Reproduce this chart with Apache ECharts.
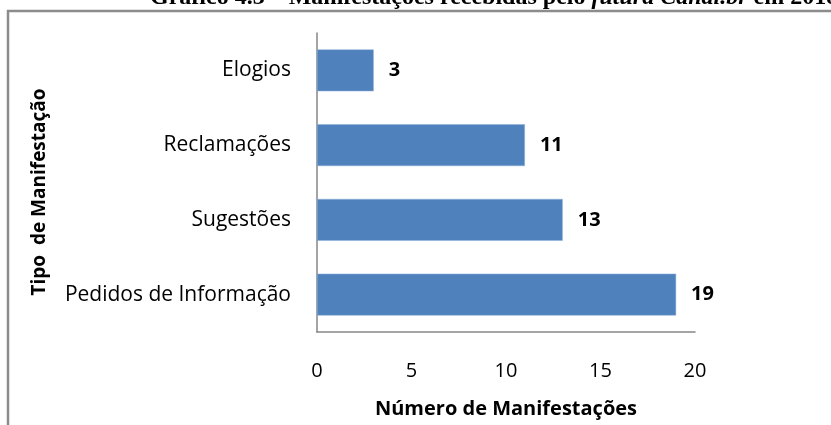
<!DOCTYPE html>
<html>
<head>
<meta charset="utf-8">
<script src="https://cdn.jsdelivr.net/npm/echarts@6/dist/echarts.min.js"></script>
<style>
  html, body { margin: 0; padding: 0; background: #fff; }
  #chart { width: 831px; height: 425px; }
</style>
</head>
<body>
<div id="chart"></div>
<script>
// Manifestation types (bottom to top on the category axis)
const categories = ['Pedidos de Informação', 'Sugestões', 'Reclamações', 'Elogios'];
// Number of manifestations per type
const values = [19, 13, 11, 3];
// Value axis ticks
const xTicks = [0, 5, 10, 15, 20];

const axisGray = '#868686';
const barBlue = '#4F81BD';
const sans = '"Open Sans", "Noto Sans", sans-serif';
const serif = '"Liberation Serif", "DejaVu Serif", serif';

const chart = echarts.init(document.getElementById('chart'));

chart.setOption({
  animation: false,
  backgroundColor: '#fff',
  title: {
    text: '{b|Gráfico 4.3 – Manifestações recebidas pelo }{i|futura Canal.br}{b| em 2018}',
    left: 150,
    top: -14,
    padding: 0,
    textStyle: {
      rich: {
        b: { fontFamily: serif, fontWeight: 'bold', fontSize: 24, color: '#000' },
        i: { fontFamily: serif, fontWeight: 'bold', fontStyle: 'italic', fontSize: 24, color: '#000' }
      }
    }
  },
  graphic: [{
    // chart area frame
    type: 'rect',
    shape: { x: 8, y: 11, width: 840, height: 440 },
    style: { fill: 'none', stroke: '#8c8c8c', lineWidth: 2.5 },
    silent: true,
    z: 10
  }, {
    // category axis title, rotated
    type: 'text',
    x: 40,
    y: 192,
    rotation: Math.PI / 2,
    style: {
      text: 'Tipo  de Manifestação',
      fill: '#000',
      font: 'bold 19px "Open Sans", "Noto Sans", sans-serif',
      align: 'center',
      verticalAlign: 'middle'
    },
    silent: true
  }],
  grid: { left: 317, top: 33, right: 136, bottom: 93, containLabel: false },
  xAxis: {
    type: 'value',
    min: xTicks[0],
    max: xTicks[xTicks.length - 1],
    interval: xTicks[1] - xTicks[0],
    axisLine: { show: true, lineStyle: { color: axisGray, width: 1.5 } },
    axisTick: { show: false },
    splitLine: { show: false },
    axisLabel: { color: '#000', fontFamily: sans, fontSize: 20, margin: 29 },
    name: 'Número de Manifestações',
    nameLocation: 'middle',
    nameGap: 67,
    nameTextStyle: { color: '#000', fontFamily: sans, fontSize: 20, fontWeight: 'bold' }
  },
  yAxis: {
    type: 'category',
    data: categories,
    axisLine: { show: true, lineStyle: { color: axisGray, width: 1.5 } },
    axisTick: { show: false },
    axisLabel: { color: '#000', fontFamily: sans, fontSize: 21, margin: 26 }
  },
  series: [{
    type: 'bar',
    data: values,
    barWidth: '56%',
    itemStyle: { color: barBlue, borderColor: '#8eb0d9', borderWidth: 0.5 },
    label: {
      show: true,
      position: 'right',
      distance: 15,
      color: '#000',
      fontFamily: sans,
      fontSize: 20,
      fontWeight: 'bold'
    }
  }]
});
</script>
</body>
</html>
